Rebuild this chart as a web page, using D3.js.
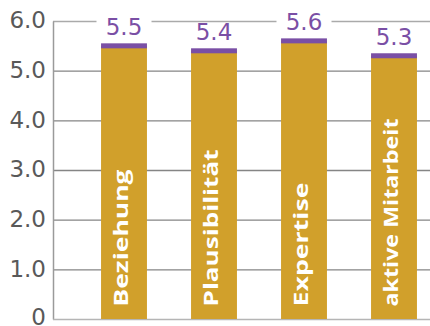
<!DOCTYPE html>
<html>
<head>
<meta charset="utf-8">
<script src="https://cdn.jsdelivr.net/npm/d3@7"></script>
<style>
  body { margin: 0; background: #fff; }
</style>
</head>
<body>
<script>
// data
const categories = ["Beziehung", "Plausibilität", "Expertise", "aktive Mitarbeit"];
const values = [5.5, 5.4, 5.6, 5.3];
const yTicks = [0, 1, 2, 3, 4, 5, 6];

const W = 430, H = 326;
const plot = {left: 53, right: 430, top: 21, bottom: 319};

const svg = d3.select("body").append("svg")
    .attr("width", W)
    .attr("height", H);

// scales
const x = d3.scaleBand()
    .domain(categories)
    .range([79, 439])
    .paddingInner(0.49)
    .paddingOuter(0.245);

const y = d3.scaleLinear()
    .domain([0, 6])
    .range([plot.bottom, plot.top]);

// gridlines
svg.append("g")
  .selectAll("line")
  .data(yTicks.filter(d => d > 0))
  .enter().append("line")
    .attr("x1", plot.left)
    .attr("x2", plot.right)
    .attr("y1", d => y(d) + 0.5)
    .attr("y2", d => y(d) + 0.5)
    .attr("stroke", d => d === 6 ? "#aaaaaa" : "#858585")
    .attr("stroke-width", 1.3);

// y axis
const yAxis = svg.append("g")
    .attr("transform", `translate(${plot.left},0)`)
    .call(d3.axisLeft(y).tickValues(yTicks).tickSize(0).tickPadding(7)
      .tickFormat(d => d === 0 ? "0" : d3.format(".1f")(d)));
yAxis.select(".domain").attr("stroke", "#9a9a9a").attr("stroke-width", 1.5);
yAxis.selectAll("text")
    .attr("font-family", "'DejaVu Sans', sans-serif")
    .attr("font-size", "23px")
    .attr("fill", "#595959")
    .attr("dy", d => d === 0 ? "0.26em" : "0.3em");

// bottom axis line
svg.append("line")
    .attr("x1", plot.left)
    .attr("x2", plot.right)
    .attr("y1", plot.bottom + 0.5)
    .attr("y2", plot.bottom + 0.5)
    .attr("stroke", "#b5b5b5")
    .attr("stroke-width", 1.5);

const data = categories.map((c, i) => ({cat: c, val: values[i]}));

// bars
svg.append("g")
  .selectAll("rect")
  .data(data)
  .enter().append("rect")
    .attr("x", d => x(d.cat))
    .attr("y", d => y(d.val))
    .attr("width", x.bandwidth())
    .attr("height", d => y(0) - y(d.val))
    .attr("fill", "#D1A02B");

// purple caps
svg.append("g")
  .selectAll("rect")
  .data(data)
  .enter().append("rect")
    .attr("x", d => x(d.cat))
    .attr("y", d => y(d.val) - 2.5)
    .attr("width", x.bandwidth())
    .attr("height", 5)
    .attr("fill", "#7A4FA5");

// value labels with white background
const lab = svg.append("g")
  .selectAll("g")
  .data(data)
  .enter().append("g")
    .attr("transform", d => `translate(${x(d.cat) + x.bandwidth() / 2},${y(d.val) - 11})`);
lab.append("rect")
    .attr("x", -27.5)
    .attr("y", -16.5)
    .attr("width", 55)
    .attr("height", 20)
    .attr("fill", "#fff");
lab.append("text")
    .attr("text-anchor", "middle")
    .attr("font-family", "'DejaVu Sans', sans-serif")
    .attr("font-size", "23px")
    .attr("fill", "#7A4FA5")
    .text(d => d3.format(".1f")(d.val));

// rotated category labels (stretched like the original)
const labelLen = [137, 157, 124, 188];
svg.append("g")
  .selectAll("text")
  .data(data)
  .enter().append("text")
    .attr("transform", d => `translate(${x(d.cat) + x.bandwidth() / 2 + 3.5},${plot.bottom - 12.5}) rotate(-90)`)
    .attr("font-family", "'Open Sans', sans-serif")
    .attr("font-weight", "bold")
    .attr("font-size", "20px")
    .attr("fill", "#ffffff")
    .attr("textLength", (d, i) => labelLen[i])
    .attr("lengthAdjust", "spacingAndGlyphs")
    .text(d => d.cat);
</script>
</body>
</html>
